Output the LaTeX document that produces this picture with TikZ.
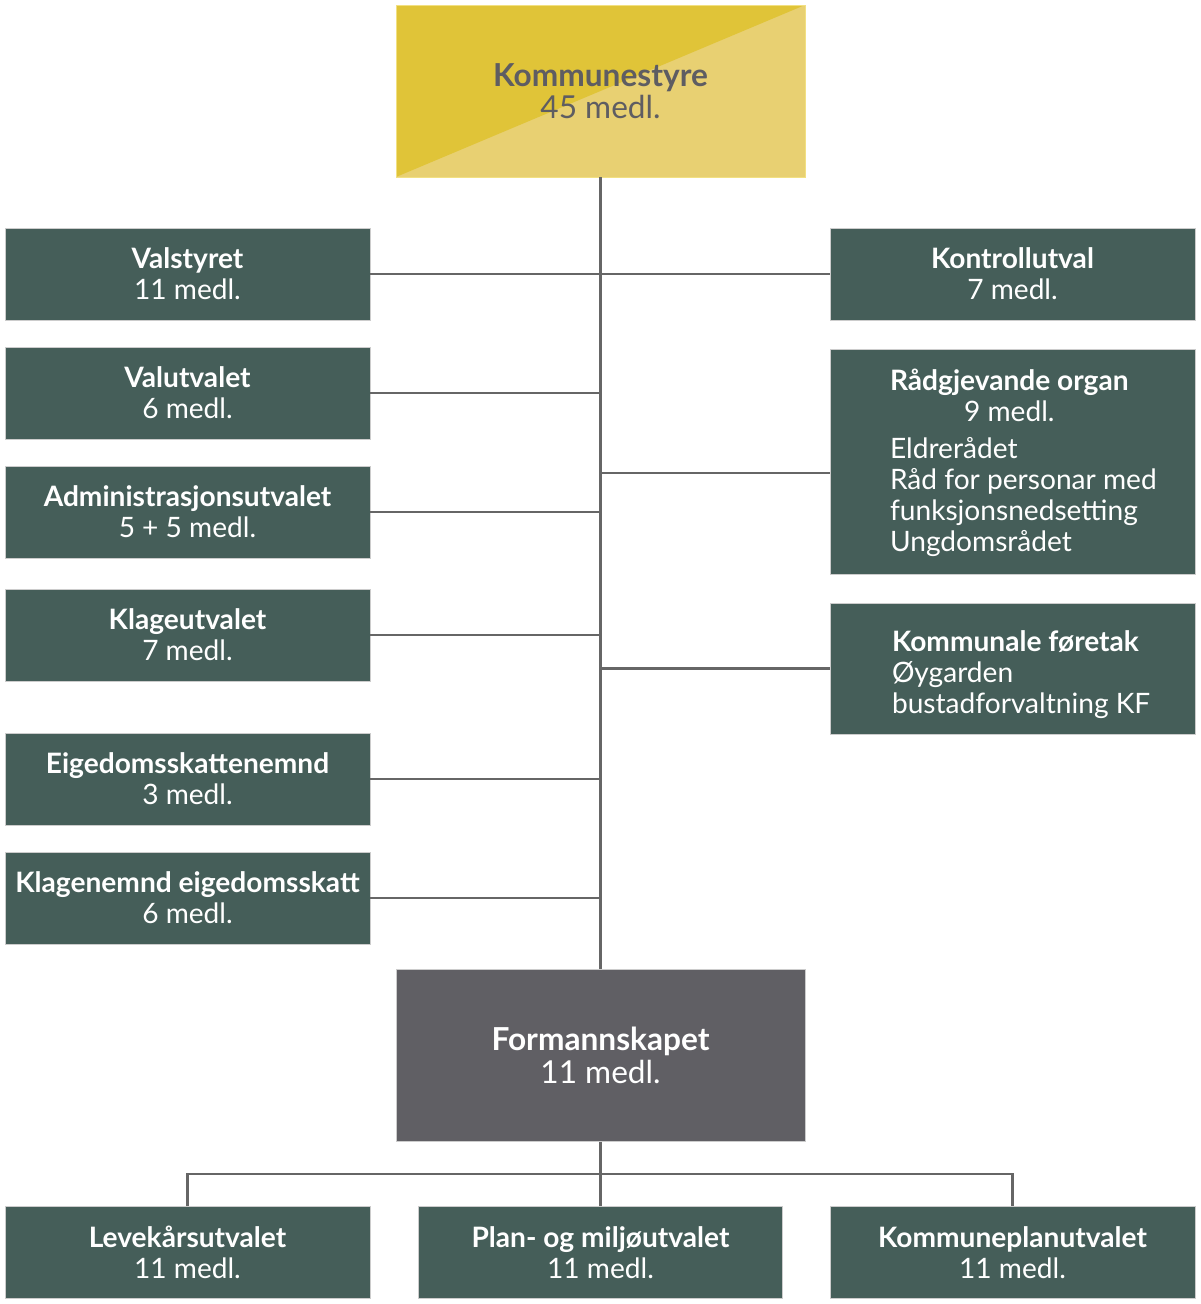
\documentclass[tikz,border=0pt]{standalone}
\usepackage{fontspec}
\setmainfont{Lato}
\usetikzlibrary{positioning}
\definecolor{utvalgreen}{RGB}{69,94,89}
\definecolor{formgrey}{RGB}{96,95,100}
\definecolor{ksdark}{RGB}{224,196,56}
\definecolor{kslight}{RGB}{232,208,114}
\definecolor{ksedge}{RGB}{242,224,130}
\definecolor{kstext}{RGB}{94,93,98}
\definecolor{linegrey}{RGB}{102,102,102}

\begin{document}
\begin{tikzpicture}[x=0.02cm,y=-0.02cm,
  utval/.style={draw=black!20,line width=0.4pt,fill=utvalgreen,text=white,
    minimum width=7.3cm,minimum height=1.84cm,inner sep=0pt,align=center,
    font=\fontsize{16}{17.6}\selectfont},
  utvaltekst/.style={text=white,inner sep=0pt,align=left,anchor=west,
    font=\fontsize{16}{17.6}\selectfont},
  stor/.style={minimum width=8.18cm,minimum height=3.44cm,inner sep=0pt,align=center,
    font=\fontsize{18}{18.5}\selectfont},
  link/.style={draw=linegrey,line width=1.2pt}]
\useasboundingbox (0,0) rectangle (1200,1304);

% Kommunestyret
\node[stor,draw=ksedge,fill=kslight,text=kstext,
  path picture={\fill[ksdark] (path picture bounding box.south west) -- (path picture bounding box.north east) -- (path picture bounding box.north west) -- cycle;}]
  (ks) at (600.5,91) {\textbf{Kommunestyre}\\45 medl.};

% Utval til venstre
\node[utval] (valstyret) at (187.5,274) {\textbf{Valstyret}\\11 medl.};
\node[utval] (valutvalet) at (187.5,393) {\textbf{Valutvalet}\\6 medl.};
\node[utval] (admutval) at (187.5,512) {\textbf{Administrasjonsutvalet}\\5 + 5 medl.};
\node[utval] (klageutval) at (187.5,635) {\textbf{Klageutvalet}\\7 medl.};
\node[utval] (eskattnemnd) at (187.5,779) {\textbf{Eigedomsskattenemnd}\\3 medl.};
\node[utval] (klagenemnd) at (187.5,898) {\textbf{Klagenemnd eigedomsskatt}\\6 medl.};

% Utval til hogre
\node[utval] (kontroll) at (1012.5,274) {\textbf{Kontrollutval}\\7 medl.};
\node[utval,minimum height=4.5cm] (raad) at (1012.5,461.5) {};
\node[utvaltekst] (raadtekst) at ([xshift=1.2cm,yshift=-0.02cm]raad.west)
  {\begin{tabular}{@{}c@{}}\textbf{Rådgjevande organ}\\9 medl.\end{tabular}\\[3pt]
   Eldrerådet\\Råd for personar med\\funksjonsnedsetting\\Ungdomsrådet};
\node[utval,minimum height=2.62cm] (foretak) at (1012.5,668.5) {};
\node[utvaltekst] (foretaktekst) at ([xshift=1.24cm,yshift=-0.12cm]foretak.west)
  {\textbf{Kommunale føretak}\\Øygarden\\bustadforvaltning KF};

% Formannskapet
\node[stor,draw=black!20,fill=formgrey,text=white] (form) at (600.5,1055.5)
  {\textbf{Formannskapet}\\11 medl.};

% Utval under formannskapet
\node[utval] (levekaar) at (187.5,1252.5) {\textbf{Levekårsutvalet}\\11 medl.};
\node[utval,minimum width=7.28cm] (planmiljo) at (600.5,1252.5) {\textbf{Plan- og miljøutvalet}\\11 medl.};
\node[utval] (kplan) at (1012.5,1252.5) {\textbf{Kommuneplanutvalet}\\11 medl.};

% Linjer
\coordinate (raadin) at (830,473);
\coordinate (fork) at (600.5,1174);
\draw[link] (ks.south) -- (form.north);
\foreach \n in {valstyret,valutvalet,admutval,klageutval,eskattnemnd,klagenemnd}
  \draw[link] (\n.east) -- (\n.east -| ks.south);
\foreach \n in {kontroll.west,foretak.west,raadin}
  \draw[link] (\n -| ks.south) -- (\n);
\draw[link] (form.south) -- (planmiljo.north);
\draw[link] (levekaar.north) |- (fork) -| (kplan.north);
\end{tikzpicture}
\end{document}
